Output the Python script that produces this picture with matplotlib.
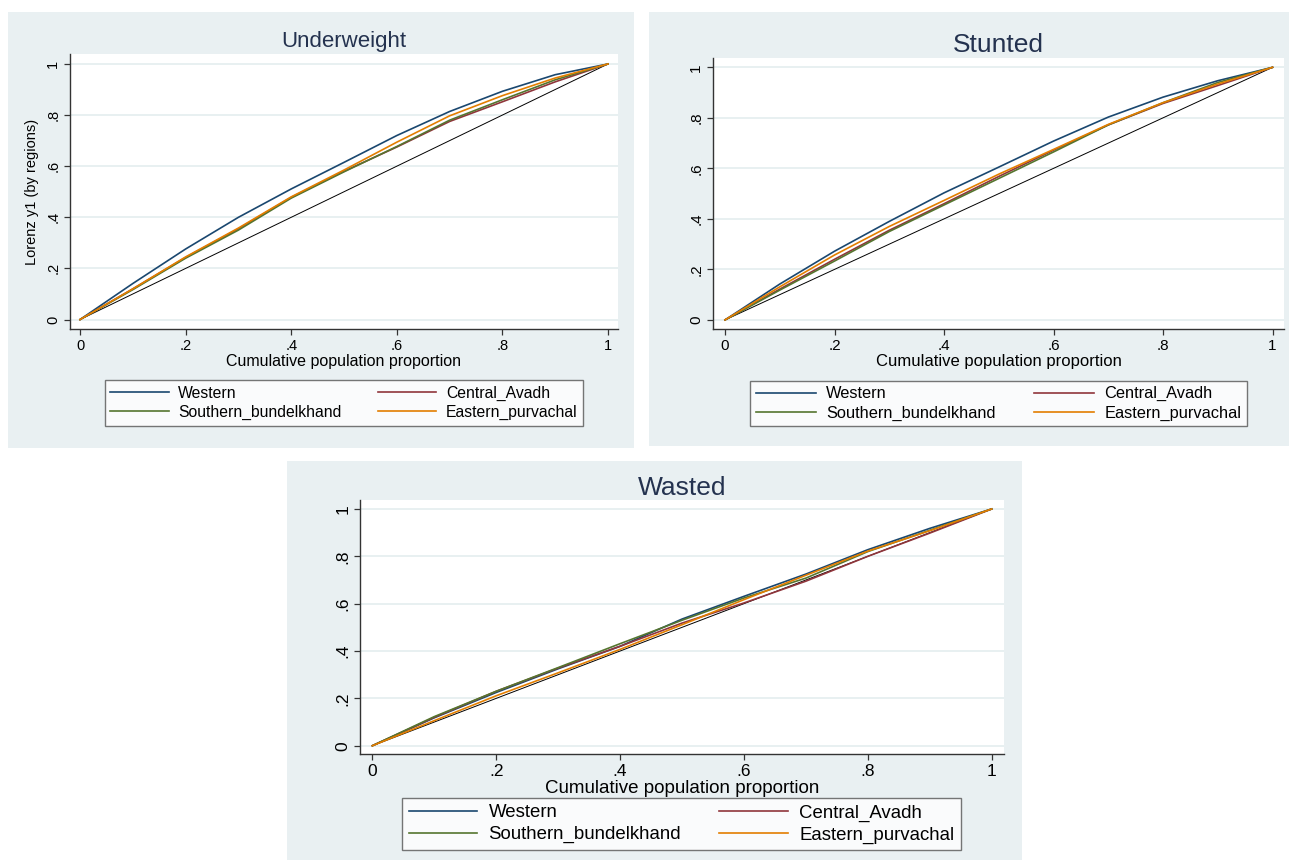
import matplotlib
matplotlib.use('Agg')
import matplotlib.pyplot as plt
from matplotlib.patches import Rectangle

plt.rcParams['font.family'] = ['Liberation Sans', 'DejaVu Sans']

# ---------------- data ----------------
pop_share = [0.0, 0.1, 0.2, 0.3, 0.4, 0.5, 0.6, 0.7, 0.8, 0.9, 1.0]
regions = ['Western', 'Central_Avadh', 'Southern_bundelkhand', 'Eastern_purvachal']
region_colors = ['#1a476f', '#90353b', '#55752f', '#e37e00']
tick_values = [0, 0.2, 0.4, 0.6, 0.8, 1.0]
tick_labels = ['0', '.2', '.4', '.6', '.8', '1']

underweight_western = [0, .141, .276, .400, .511, .615, .720, .814, .893, .958, 1]
underweight_central = [0, .120, .243, .355, .478, .580, .675, .775, .852, .930, 1]
underweight_southern = [0, .117, .240, .350, .475, .578, .677, .780, .860, .938, 1]
underweight_eastern = [0, .120, .245, .358, .480, .585, .694, .797, .876, .945, 1]

stunted_western = [0, .142, .272, .390, .503, .605, .708, .803, .882, .947, 1]
stunted_central = [0, .122, .240, .355, .460, .568, .672, .772, .857, .928, 1]
stunted_southern = [0, .118, .233, .350, .455, .560, .665, .772, .860, .940, 1]
stunted_eastern = [0, .131, .257, .370, .473, .577, .675, .774, .860, .934, 1]

wasted_western = [0, .118, .225, .325, .420, .535, .631, .725, .828, .918, 1]
wasted_central = [0, .120, .230, .328, .420, .518, .603, .695, .800, .898, 1]
wasted_southern = [0, .123, .230, .330, .431, .530, .624, .708, .820, .910, 1]
wasted_eastern = [0, .106, .211, .308, .407, .511, .617, .720, .822, .908, 1]

titles = ['Underweight', 'Stunted', 'Wasted']
x_label = 'Cumulative population proportion'
y_label = 'Lorenz y1 (by regions)'

# ---------------- layout ----------------
W, H = 1290, 860
BG = '#e9f0f2'
GRID = '#e4edef'
TITLE_C = '#24324f'


def frac(x0, y0, x1, y1):
    return [x0 / W, 1 - y1 / H, (x1 - x0) / W, (y1 - y0) / H]


panels = [
    dict(series=[underweight_western, underweight_central, underweight_southern, underweight_eastern],
         bg=(8, 12, 634, 448), ax=(70, 54, 618, 329),
         xlim=(-0.019, 1.019), ylim=(-0.037, 1.039),
         tsize=16, ticksize=10.5, lsize=11.5, legsize=11.3,
         leg=(105, 379, 583, 427), ylabel=True, tpad=5),
    dict(series=[stunted_western, stunted_central, stunted_southern, stunted_eastern],
         bg=(649, 12, 1289, 446), ax=(713, 58, 1284, 329),
         xlim=(-0.022, 1.021), ylim=(-0.036, 1.037),
         tsize=19, ticksize=11, lsize=12, legsize=11.8,
         leg=(750, 380, 1247, 427), ylabel=False, tpad=4),
    dict(series=[wasted_western, wasted_central, wasted_southern, wasted_eastern],
         bg=(287, 461, 1022, 860), ax=(360, 500, 1004, 754),
         xlim=(-0.020, 1.020), ylim=(-0.035, 1.038),
         tsize=19, ticksize=12.5, lsize=13.5, legsize=13.4,
         leg=(402, 800, 961, 848), ylabel=False, tpad=1),
]

fig = plt.figure(figsize=(12.9, 8.6), dpi=100)
fig.patch.set_facecolor('white')

for i, p in enumerate(panels):
    x0, y0, x1, y1 = p['bg']
    fig.patches.append(Rectangle((x0 / W, 1 - y1 / H), (x1 - x0) / W, (y1 - y0) / H,
                                 transform=fig.transFigure, facecolor=BG,
                                 edgecolor='none', zorder=-10))
    ax = fig.add_axes(frac(*p['ax']))
    ax.set_facecolor('white')
    for sp in ['top', 'right']:
        ax.spines[sp].set_visible(False)
    for sp in ['left', 'bottom']:
        ax.spines[sp].set_color('#333333')
        ax.spines[sp].set_linewidth(1.0)
    ax.set_xlim(*p['xlim'])
    ax.set_ylim(*p['ylim'])
    ax.set_xticks(tick_values)
    ax.set_xticklabels(tick_labels)
    ax.set_yticks(tick_values)
    ax.set_yticklabels(tick_labels, rotation=90, va='center')
    ax.tick_params(axis='both', direction='out', length=4, width=0.9,
                   color='#333333', labelsize=p['ticksize'], pad=3)
    ax.grid(axis='y', color=GRID, linewidth=1.2)
    ax.set_axisbelow(True)

    # line of equality
    ax.plot([0, 1], [0, 1], color='black', linewidth=0.7, zorder=2)
    handles = []
    for vals, col, name in zip(p['series'], region_colors, regions):
        ln, = ax.plot(pop_share, vals, color=col, linewidth=1.2, label=name, zorder=3)
        handles.append(ln)

    ax.set_title(titles[i], fontsize=p['tsize'], color=TITLE_C, pad=p['tpad'])
    ax.set_xlabel(x_label, fontsize=p['lsize'], labelpad=1)
    if p['ylabel']:
        ax.set_ylabel(y_label, fontsize=10.5, labelpad=5)

    lx0, ly0, lx1, ly1 = p['leg']
    order = [0, 2, 1, 3]
    leg = fig.legend([handles[k] for k in order], [regions[k] for k in order],
                     loc='center', bbox_to_anchor=frac(lx0, ly0, lx1, ly1),
                     bbox_transform=fig.transFigure, mode='expand', ncol=2,
                     fontsize=p['legsize'], frameon=True, fancybox=False,
                     handlelength=3.7, handletextpad=0.6, borderpad=0.35,
                     labelspacing=0.25, borderaxespad=0, columnspacing=1.0)
    leg.get_frame().set_edgecolor('#555555')
    leg.get_frame().set_linewidth(1.0)

fig.savefig('out.png', dpi=100, facecolor='white')
